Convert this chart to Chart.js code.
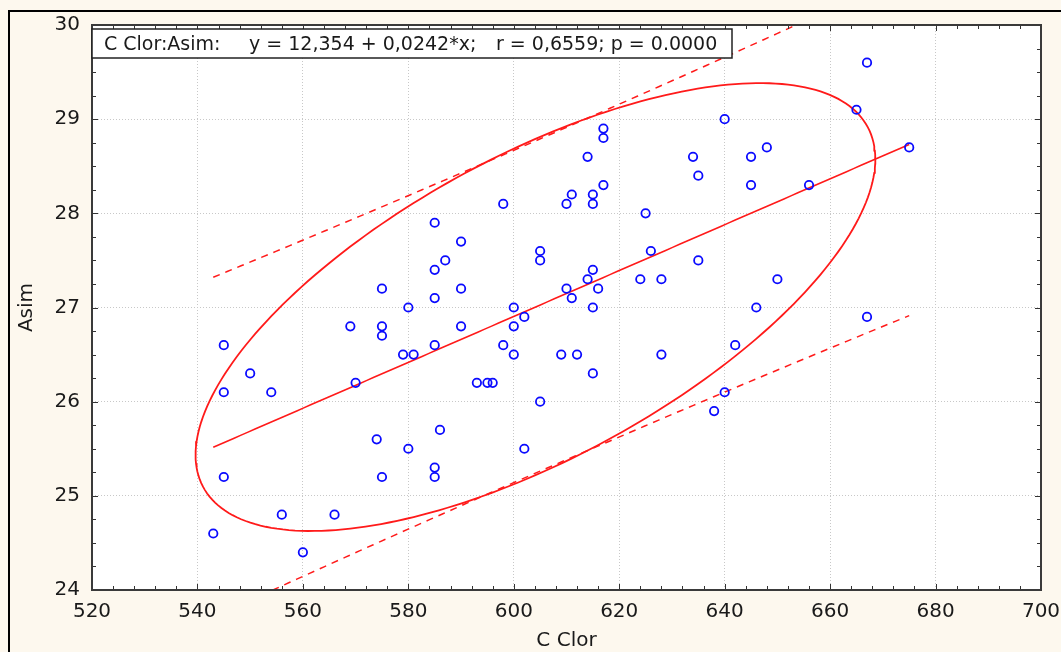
<!DOCTYPE html>
<html><head><meta charset="utf-8">
<script src="https://cdn.jsdelivr.net/npm/chart.js@4"></script>
<style>html,body{margin:0;padding:0;background:#fdf8ee;}canvas{display:block}</style>
</head><body><canvas id="c" width="1061" height="652"></canvas>
<script>
// ---- data ----
const cClor = [543,545,545,545,550,554,556,560,566,569,570,574,575,575,575,575,579,580,580,581,585,585,585,585,585,585,586,587,590,590,590,593,595,596,598,598,600,600,600,602,602,605,605,605,609,610,610,611,611,612,614,614,615,615,615,615,615,616,617,617,617,624,625,626,628,628,634,635,635,638,640,640,642,645,645,646,648,650,656,665,667,667,675];
const asim = [24.6,26.6,26.1,25.2,26.3,26.1,24.8,24.4,24.8,26.8,26.2,25.6,27.2,26.8,26.7,25.2,26.5,27.0,25.5,26.5,27.9,27.4,27.1,26.6,25.3,25.2,25.7,27.5,27.7,27.2,26.8,26.2,26.2,26.2,28.1,26.6,27.0,26.8,26.5,26.9,25.5,27.6,27.5,26.0,26.5,28.1,27.2,28.2,27.1,26.5,28.6,27.3,28.2,28.1,27.4,27.0,26.3,27.2,28.9,28.8,28.3,27.3,28.0,27.6,27.3,26.5,28.6,28.4,27.5,25.9,29.0,26.1,26.6,28.6,28.3,27.0,28.7,27.3,28.3,29.1,29.6,26.9,28.7];
const xTicks = [520,540,560,580,600,620,640,660,680,700];
const yTicks = [24,25,26,27,28,29,30];
const xTitle = "C Clor";
const yTitle = "Asim";
const boxTexts = ["C Clor:Asim:", "y = 12,354 + 0,0242*x;", "r = 0,6559; p = 0.0000"];
const tCrit = 2.03;      // band multiplier
const ellipseK = 2.08;   // ellipse size in standard deviations

// ---- statistics from the data ----
const n = cClor.length;
const xbar = cClor.reduce((a,b)=>a+b,0)/n;
const ybar = asim.reduce((a,b)=>a+b,0)/n;
let Sxx=0,Syy=0,Sxy=0;
for(let i=0;i<n;i++){const dx=cClor[i]-xbar, dy=asim[i]-ybar;Sxx+=dx*dx;Syy+=dy*dy;Sxy+=dx*dy;}
const slope = Sxy/Sxx, icpt = ybar - slope*xbar;
const sRes = Math.sqrt((Syy - slope*Sxy)/(n-2));
const xmin = Math.min(...cClor), xmax = Math.max(...cClor);
const fitLine=[], upper=[], lower=[];
for(let i=0;i<=100;i++){
  const x = xmin + (xmax-xmin)*i/100;
  const yh = icpt + slope*x;
  const h = tCrit*sRes*Math.sqrt(1 + 1/n + (x-xbar)*(x-xbar)/Sxx);
  fitLine.push({x, y:yh}); upper.push({x, y:yh+h}); lower.push({x, y:yh-h});
}
const cxx=Sxx/(n-1), cyy=Syy/(n-1), cxy=Sxy/(n-1);
const l11=Math.sqrt(cxx), l21=cxy/l11, l22=Math.sqrt(cyy-l21*l21);
const ellipse=[];
for(let i=0;i<=240;i++){
  const t=2*Math.PI*i/240;
  ellipse.push({x: xbar + ellipseK*l11*Math.cos(t), y: ybar + ellipseK*(l21*Math.cos(t)+l22*Math.sin(t))});
}
const points = cClor.map((x,i)=>({x, y:asim[i]}));

const RED = '#ff1a1a';
const FONT = "'DejaVu Sans', sans-serif";

const decor = {
  id:'decor',
  beforeDraw(chart){
    const {ctx, chartArea:{left,right,top,bottom}} = chart;
    ctx.save(); ctx.fillStyle='#ffffff'; ctx.fillRect(left,top,right-left,bottom-top); ctx.restore();
  },
  afterDraw(chart){
    const {ctx, chartArea:{left,right,top,bottom}, scales:{x,y}} = chart;
    ctx.save();
    ctx.strokeStyle='#333333'; ctx.lineWidth=1;
    ctx.beginPath();
    for(let v=xTicks[0]; v<=xTicks[xTicks.length-1]+1e-9; v+=4){
      const px=Math.round(x.getPixelForValue(v))+0.5;
      const len = (v%20===0)?6:4;
      ctx.moveTo(px,bottom); ctx.lineTo(px,bottom-len);
      ctx.moveTo(px,top); ctx.lineTo(px,top+len);
    }
    for(let v=yTicks[0]; v<=yTicks[yTicks.length-1]+1e-9; v+=0.25){
      const py=Math.round(y.getPixelForValue(v))+0.5;
      const len = (Math.abs(v-Math.round(v))<1e-9)?6:4;
      ctx.moveTo(left,py); ctx.lineTo(left+len,py);
      ctx.moveTo(right,py); ctx.lineTo(right-len,py);
    }
    ctx.stroke();
    ctx.lineWidth=2; ctx.strokeStyle='#3a3a3a';
    ctx.strokeRect(left,top,right-left,bottom-top);
    // annotation box
    ctx.fillStyle='#ffffff'; ctx.fillRect(92,29,640,29);
    ctx.lineWidth=1.5; ctx.strokeStyle='#222222'; ctx.strokeRect(92,29,640,29);
    ctx.fillStyle='#1a1a1a'; ctx.font="19px "+FONT; ctx.textBaseline='alphabetic'; ctx.textAlign='left';
    ctx.fillText(boxTexts[0],104,50);
    ctx.fillText(boxTexts[1],249,50);
    ctx.fillText(boxTexts[2],496,50);
    // outer frame
    ctx.strokeStyle='#000000'; ctx.lineWidth=2;
    ctx.beginPath(); ctx.moveTo(9,660); ctx.lineTo(9,11); ctx.lineTo(1070,11); ctx.stroke();
    ctx.restore();
  }
};

new Chart(document.getElementById('c'), {
  type:'scatter',
  data:{datasets:[
    {data:points, pointStyle:'circle', pointRadius:4.2, pointBorderWidth:1.8, borderColor:'#0a0aff', backgroundColor:'rgba(0,0,0,0)', pointHoverRadius:4.2, order:0},
    {data:fitLine, showLine:true, pointRadius:0, borderColor:RED, borderWidth:1.6, order:1},
    {data:upper, showLine:true, pointRadius:0, borderColor:RED, borderWidth:1.5, borderDash:[7,6], order:1},
    {data:lower, showLine:true, pointRadius:0, borderColor:RED, borderWidth:1.5, borderDash:[7,6], order:1},
    {data:ellipse, showLine:true, pointRadius:0, borderColor:RED, borderWidth:1.8, order:1}
  ]},
  options:{
    responsive:false, animation:false, devicePixelRatio:1,
    layout:{padding:{left:0,right:20,top:25,bottom:0}},
    plugins:{legend:{display:false}, tooltip:{enabled:false}},
    scales:{
      x:{type:'linear', min:xTicks[0], max:xTicks[xTicks.length-1],
        afterBuildTicks(s){ s.ticks = xTicks.map(v=>({value:v})); },
        afterFit(s){ s.height = 62; s.paddingRight = 10; },
        grid:{color:'#c8c8c8', lineWidth:1, drawTicks:false},
        border:{display:false, dash:[1,2]},
        ticks:{padding:10, color:'#1a1a1a', font:{family:FONT, size:20}, maxRotation:0, autoSkip:false},
        title:{display:true, text:xTitle, color:'#1a1a1a', font:{family:FONT, size:20, lineHeight:1.2}, padding:{top:0,bottom:-1}}
      },
      y:{type:'linear', min:yTicks[0], max:yTicks[yTicks.length-1],
        afterBuildTicks(s){ s.ticks = yTicks.map(v=>({value:v})); },
        afterFit(s){ s.width = 92; },
        grid:{color:'#c8c8c8', lineWidth:1, drawTicks:false},
        border:{display:false, dash:[1,2]},
        ticks:{padding:12, color:'#1a1a1a', font:{family:FONT, size:20}, autoSkip:false},
        title:{display:true, text:yTitle, color:'#1a1a1a', font:{family:FONT, size:20, lineHeight:1.2}, padding:{top:15,bottom:0}}
      }
    }
  },
  plugins:[decor]
});
</script>
</body></html>
